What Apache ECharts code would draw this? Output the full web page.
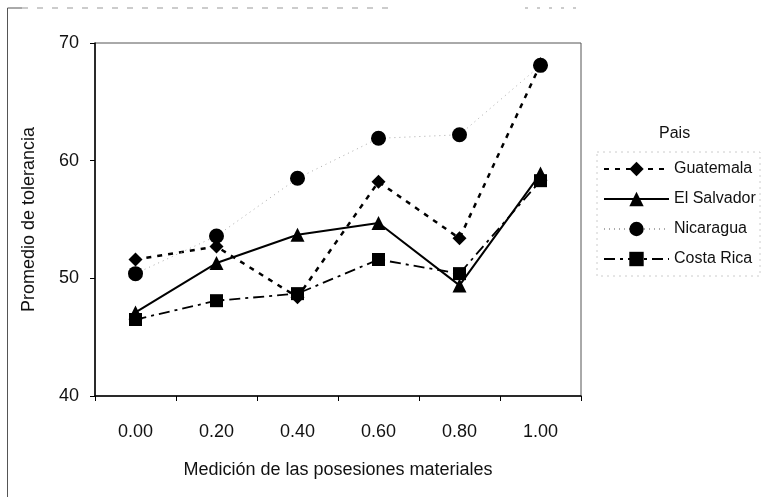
<!DOCTYPE html>
<html>
<head>
<meta charset="utf-8">
<script src="https://cdn.jsdelivr.net/npm/echarts@6/dist/echarts.min.js"></script>
<style>
html,body{margin:0;padding:0;background:#fff;}
#chart{width:766px;height:497px;}
</style>
</head>
<body>
<div id="chart"></div>
<script>
const categories = ['0.00', '0.20', '0.40', '0.60', '0.80', '1.00'];
const guatemala  = [51.6, 52.7, 48.4, 58.2, 53.4, 68.2];
const elSalvador = [47.1, 51.3, 53.7, 54.7, 49.4, 58.9];
const nicaragua  = [50.4, 53.6, 58.5, 61.9, 62.2, 68.1];
const costaRica  = [46.5, 48.1, 48.7, 51.6, 50.4, 58.3];
const seriesNames = ['Guatemala', 'El Salvador', 'Nicaragua', 'Costa Rica'];
const yTicks = [40, 50, 60, 70];

const FONT = "'Liberation Sans', Arial, sans-serif";
const TXT = '#111';

const chart = echarts.init(document.getElementById('chart'), null, {renderer: 'canvas'});
chart.setOption({
  animation: false,
  backgroundColor: '#fff',
  textStyle: {fontFamily: FONT, color: TXT},
  grid: {left: 95, right: 185, top: 43, bottom: 101, show: true, borderColor: '#555', borderWidth: 1},
  xAxis: {
    type: 'category',
    data: categories,
    boundaryGap: true,
    name: 'Medición de las posesiones materiales',
    nameLocation: 'middle',
    nameGap: 65,
    nameTextStyle: {fontFamily: FONT, fontSize: 18, color: TXT},
    axisLine: {lineStyle: {color: '#000', width: 1.5}},
    axisTick: {show: true, inside: false, length: 5, alignWithLabel: false, lineStyle: {color: '#000'}},
    axisLabel: {fontFamily: FONT, fontSize: 18, color: TXT, margin: 27},
    splitLine: {show: false}
  },
  yAxis: {
    type: 'value',
    min: yTicks[0],
    max: yTicks[yTicks.length - 1],
    interval: 10,
    name: 'Promedio de tolerancia',
    nameLocation: 'middle',
    nameGap: 57,
    nameRotate: 90,
    nameTextStyle: {fontFamily: FONT, fontSize: 18, color: TXT},
    axisLine: {show: true, lineStyle: {color: '#000', width: 1.5}},
    axisTick: {show: true, length: 5, lineStyle: {color: '#000'}},
    axisLabel: {fontFamily: FONT, fontSize: 18, color: TXT, margin: 16},
    splitLine: {show: false}
  },
  legend: {
    orient: 'vertical',
    left: 603,
    top: 161,
    padding: 0,
    itemWidth: 65,
    itemHeight: 18,
    itemGap: 14,
    textStyle: {fontFamily: FONT, fontSize: 16, color: TXT},
    data: seriesNames
  },
  graphic: [
    {type: 'text', left: 659, top: 126, style: {text: 'Pais', font: '16px ' + FONT, fill: TXT}},
    {type: 'rect', shape: {x: 597, y: 152, width: 163, height: 124}, style: {fill: 'none', stroke: '#ccc', lineWidth: 1, lineDash: [2, 4]}, silent: true},
    {type: 'line', shape: {x1: 7.5, y1: 8, x2: 7.5, y2: 497}, style: {stroke: '#555', lineWidth: 1}},
    {type: 'line', shape: {x1: 7.5, y1: 8, x2: 22, y2: 8}, style: {stroke: '#555', lineWidth: 1}},
    {type: 'line', shape: {x1: 22, y1: 8, x2: 390, y2: 8}, style: {stroke: '#999', lineWidth: 1, lineDash: [6, 9]}},
    {type: 'line', shape: {x1: 525, y1: 8, x2: 580, y2: 8}, style: {stroke: '#999', lineWidth: 1, lineDash: [3, 9]}}
  ],
  series: [
    {
      name: seriesNames[0], type: 'line', data: guatemala,
      symbol: 'diamond', symbolSize: 14,
      itemStyle: {color: '#000'},
      lineStyle: {color: '#000', width: 2.5, type: [5, 6]}
    },
    {
      name: seriesNames[1], type: 'line', data: elSalvador,
      symbol: 'triangle', symbolSize: 14,
      itemStyle: {color: '#000'},
      lineStyle: {color: '#000', width: 2, type: 'solid'}
    },
    {
      name: seriesNames[2], type: 'line', data: nicaragua,
      symbol: 'circle', symbolSize: 15,
      itemStyle: {color: '#000'},
      lineStyle: {color: '#aaa', width: 1, type: [1, 4]}
    },
    {
      name: seriesNames[3], type: 'line', data: costaRica,
      symbol: 'rect', symbolSize: 13,
      itemStyle: {color: '#000'},
      lineStyle: {color: '#000', width: 1.8, type: [11, 5, 3, 5]}
    }
  ]
});
</script>
</body>
</html>
